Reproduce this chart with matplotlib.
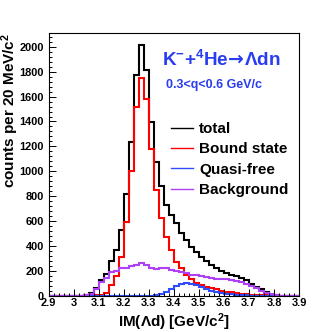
import numpy as np
import matplotlib
matplotlib.use("Agg")
import matplotlib.pyplot as plt
from matplotlib.lines import Line2D
from matplotlib.ticker import MultipleLocator, FuncFormatter

plt.rcParams.update({
    "font.family": ["Liberation Sans", "DejaVu Sans"],
    "font.weight": "bold",
    "mathtext.fontset": "custom",
    "mathtext.rm": "Liberation Sans:bold",
    "mathtext.bf": "Liberation Sans:bold",
    "mathtext.it": "Liberation Sans:bold",
    "mathtext.sf": "Liberation Sans:bold",
    "mathtext.cal": "DejaVu Sans:bold",
})

# IM(Lambda d) histogram, 20 MeV bins from 2.9 to 3.9 GeV/c^2
x_lo, x_hi, n_bins = 2.9, 3.9, 50

total = [0, 0, 0, 0, 0, 0, 0, 8, 24, 64,
         130, 175, 278, 366, 532, 816, 1239, 1772, 2015, 1815,
         1397, 1072, 880, 732, 651, 584, 509, 450, 397, 356,
         316, 281, 249, 222, 201, 185, 170, 158, 145, 125,
         100, 75, 54, 35, 20, 8, 3, 1, 0, 0]

bound_state = [0, 0, 0, 0, 0, 0, 0, 0, 2, 5,
               12, 28, 85, 160, 310, 590, 1000, 1520, 1748, 1580,
               1180, 852, 624, 470, 370, 276, 222, 169, 134, 107,
               88, 75, 62, 54, 43, 35, 30, 25, 20, 16,
               12, 9, 7, 5, 3, 2, 1, 0, 0, 0]

quasi_free = [0, 0, 0, 0, 0, 0, 0, 0, 0, 0,
              0, 0, 0, 0, 0, 0, 0, 0, 0, 0,
              2, 5, 15, 30, 55, 80, 100, 104, 100, 90,
              74, 58, 44, 32, 23, 17, 13, 10, 8, 6,
              4, 3, 2, 1, 0, 0, 0, 0, 0, 0]

background = [0, 0, 0, 0, 0, 0, 0, 5, 18, 55,
              115, 145, 190, 204, 222, 228, 240, 252, 268, 250,
              225, 215, 228, 225, 212, 200, 190, 182, 172, 165,
              160, 152, 146, 140, 138, 135, 125, 120, 112, 100,
              82, 62, 44, 28, 16, 6, 2, 0, 0, 0]

labels = ["total", "Bound state", "Quasi-free", "Background"]
colors = ["black", "#ff0000", "#2f4dff", "#b040f5"]

edges = np.linspace(x_lo, x_hi, n_bins + 1)

fig = plt.figure(figsize=(3.32, 3.32), dpi=100)
ax = fig.add_axes([48.5 / 332, 36 / 332, 250.5 / 332, 263 / 332])

for vals, col in zip([total, bound_state, quasi_free, background], colors):
    ax.stairs(vals, edges, color=col, lw=1.5, baseline=None)

ax.set_xlim(x_lo, x_hi)
ax.set_ylim(0, 2110)

ax.xaxis.set_major_locator(MultipleLocator(0.1))
ax.xaxis.set_minor_locator(MultipleLocator(0.02))
ax.yaxis.set_major_locator(MultipleLocator(200))
ax.yaxis.set_minor_locator(MultipleLocator(40))
ax.xaxis.set_major_formatter(FuncFormatter(lambda v, p: f"{v:g}"))
ax.tick_params(which="both", direction="in", labelsize=7.9)
ax.tick_params(which="major", length=4.8, width=0.7)
ax.tick_params(which="minor", length=2.4, width=0.7)
ax.tick_params(axis="x", pad=1.6)
ax.tick_params(axis="y", pad=3.2)
for lab in ax.get_xticklabels() + ax.get_yticklabels():
    lab.set_fontweight("bold")
for sp in ax.spines.values():
    sp.set_linewidth(0.8)

ax.set_xlabel(r"IM($\Lambda$d) [GeV/c$^{2}$]", fontsize=11, fontweight="bold")
ax.xaxis.set_label_coords(0.5, -0.058)
ax.set_ylabel(r"counts per 20 MeV/c$^{2}$", fontsize=11, fontweight="bold", loc="top")
# rotated label: the anchor x is its right-hand side
ax.yaxis.set_label_coords(-0.11, 1.0)

fig.text(162 / 332, 1 - 60 / 332, r"K$^{-}$+$^{4}$He$\!\mathcal{\rightarrow}\!$Λdn",
         color="#2a3cf0", fontsize=13.6, fontweight="bold", va="center", ha="left")
fig.text(166 / 332, 1 - 85 / 332, "0.3<q<0.6 GeV/c",
         color="#2a3cf0", fontsize=9, fontweight="bold", va="center", ha="left")

handles = [Line2D([], [], color=c, lw=1.0) for c in colors]
ax.legend(handles, labels, loc="upper left", bbox_to_anchor=(171 / 332, 1 - 122 / 332),
          bbox_transform=fig.transFigure, frameon=False,
          handlelength=1.45, handletextpad=0.4, labelspacing=0.42, borderpad=0,
          borderaxespad=0, prop={"weight": "bold", "size": 11})

fig.savefig("out.png", dpi=100)
